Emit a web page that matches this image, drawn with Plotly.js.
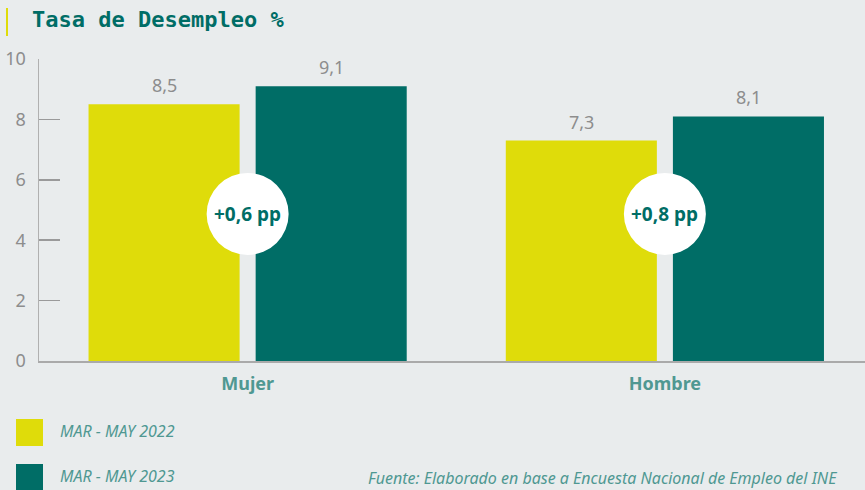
<!DOCTYPE html>
<html><head><meta charset="utf-8">
<script src="https://cdn.plot.ly/plotly-3.0.1.min.js"></script>
<style>html,body{margin:0;padding:0;background:#e9eced;}#chart{width:865px;height:490px;}</style>
</head><body><div id="chart"></div>
<script>
const categories = ['Mujer', 'Hombre'];
const series2022 = [8.5, 7.3];
const series2023 = [9.1, 8.1];
const seriesNames = ['MAR - MAY 2022', 'MAR - MAY 2023'];
const badgeLabels = ['+0,6 pp', '+0,8 pp'];
const yTicks = [0, 2, 4, 6, 8, 10];
const titleText = 'Tasa de Desempleo %';
const sourceText = 'Fuente: Elaborado en base a Encuesta Nacional de Empleo del INE';

const YELLOW = '#dfdc0a', TEAL = '#006d66', GRAY = '#8d8d8d';
const FONT = 'Noto Sans, Open Sans, sans-serif';

const traces = [
  {type:'bar', x: categories, y: series2022, name: seriesNames[0], marker:{color:YELLOW},
   showlegend:false, hoverinfo:'none'},
  {type:'bar', x: categories, y: series2023, name: seriesNames[1], marker:{color:TEAL},
   showlegend:false, hoverinfo:'none'}
];

const shapes = [
  {type:'line', xref:'paper', yref:'paper', x0:(7-39)/826, x1:(7-39)/826, y0:(361-8)/302, y1:(361-36)/302, line:{color:YELLOW, width:2}}
];
const annotations = [];
const groupOffset = 0.2;
[series2022, series2023].forEach((s, k) => {
  s.forEach((v, i) => {
    annotations.push({x:i + (k === 0 ? -groupOffset : groupOffset), y:v, xref:'x', yref:'y',
      text:v.toFixed(1).replace('.', ','), showarrow:false, yanchor:'middle', yshift:19,
      font:{color:GRAY, size:18, family:FONT}});
  });
});
categories.forEach((c, i) => {
  shapes.push({type:'circle', xref:'x', yref:'y', xsizemode:'pixel', ysizemode:'pixel',
    xanchor:i, yanchor:4.87, x0:-41, x1:41, y0:-41, y1:41, fillcolor:'#ffffff', line:{width:0}, layer:'above'});
  annotations.push({x:i, y:4.87, xref:'x', yref:'y', text:'<b>'+badgeLabels[i]+'</b>', showarrow:false,
    font:{color:TEAL, size:19, family:FONT}});
});
const legendColors = [YELLOW, TEAL];
seriesNames.forEach((n, i) => {
  const top = 419 + i*45;
  shapes.push({type:'rect', xref:'paper', yref:'paper',
    x0:(16-39)/826, x1:(43-39)/826, y0:(361-top)/302, y1:(361-top-27)/302,
    fillcolor:legendColors[i], line:{width:0}});
  annotations.push({xref:'paper', yref:'paper', x:(58-39)/826, y:(361-top-12)/302, xanchor:'left', yanchor:'middle',
    text:'<i>'+n+'</i>', showarrow:false, font:{color:'#4f9892', size:16, family:FONT}});
});
annotations.push({xref:'paper', yref:'paper', x:(30-39)/826, y:(361-20)/302, xanchor:'left', yanchor:'middle',
  text:'<b>'+titleText+'</b>', showarrow:false, font:{color:TEAL, size:22, family:'DejaVu Sans Mono, Liberation Mono, monospace'}});
annotations.push({xref:'paper', yref:'paper', x:(366-39)/826, y:(361-478)/302, xanchor:'left', yanchor:'middle',
  text:'<i>'+sourceText+'</i>', showarrow:false, font:{color:'#4f9892', size:16, family:FONT}});

const layout = {
  width:865, height:490,
  margin:{l:39, r:0, t:59, b:129, pad:0},
  paper_bgcolor:'#e9eced', plot_bgcolor:'#e9eced',
  separators:',.',
  barmode:'group', bargap:0.199, bargroupgap:0.096,
  showlegend:false,
  xaxis:{type:'category', range:[-0.5, 1.4796], showline:true, linecolor:'#aaaaaa', linewidth:1.5,
    ticks:'', showgrid:false, zeroline:false, fixedrange:true, ticklabelstandoff:6,
    tickfont:{color:'#4f9892', size:18, family:FONT, weight:'bold'}},
  yaxis:{range:[0,10], tickvals:yTicks, showline:true, linecolor:'#b0b0b0', linewidth:1.5,
    ticks:'inside', ticklen:21, tickcolor:'#9a9a9a', tickwidth:1.5, showgrid:false, zeroline:false,
    tickfont:{color:GRAY, size:18, family:FONT}, ticklabelstandoff:8},
  shapes:shapes, annotations:annotations
};
Plotly.newPlot('chart', traces, layout, {displayModeBar:false, staticPlot:true});
</script></body></html>
